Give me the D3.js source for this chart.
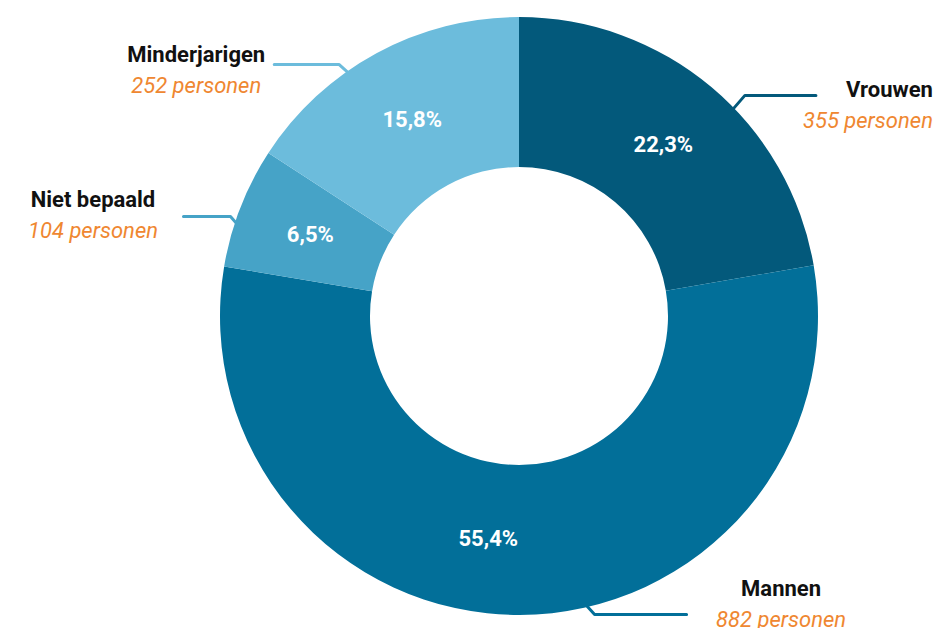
<!DOCTYPE html>
<html><head><meta charset="utf-8">
<script src="https://cdn.jsdelivr.net/npm/d3@7/dist/d3.min.js"></script>
<style>
html,body{margin:0;padding:0;background:#fff;}
svg{display:block;font-family:Roboto, "Noto Sans", sans-serif;}
</style></head>
<body>
<svg id="chart" width="935" height="628"></svg>
<script>
// Data
const categories = ["Vrouwen", "Mannen", "Niet bepaald", "Minderjarigen"];
const values = [355, 882, 104, 252];
const unitLabel = "personen";
const colors = ["#03597b", "#026f99", "#46a3c7", "#6cbcdc"];

// Layout (annotation placement, not data)
const layout = {
  "Vrouwen":       {leaderAngle: 46,  elbow: [13, -15], len: 71,  textAnchor: "end",    textDx: 117,  textDy: 1.5,  pctNudge: 0},
  "Mannen":        {leaderAngle: 167, elbow: [9, 10],   len: 92,  textAnchor: "middle", textDx: 94.5, textDy: -18,  pctNudge: 8},
  "Niet bepaald":  {leaderAngle: 288, elbow: [-7, -8],  len: 47,  textAnchor: "middle", textDx: -90.5,textDy: -9.5, pctNudge: 0},
  "Minderjarigen": {leaderAngle: 325, elbow: [-10, -9], len: 65,  textAnchor: "middle", textDx: -78,  textDy: -2.5, pctNudge: 0}
};

const cx = 519, cy = 316, R = 299, r = 149;
const total = d3.sum(values);
const data = categories.map((c, i) => ({name: c, value: values[i], color: colors[i]}));

const svg = d3.select("#chart");
const g = svg.append("g").attr("transform", `translate(${cx},${cy})`);

const pie = d3.pie().value(d => d.value).sort(null);
const arc = d3.arc().innerRadius(r).outerRadius(R);
const arcs = pie(data);

// leader lines (behind slices)
const rad = deg => deg * Math.PI / 180;
const leaderG = g.append("g");
arcs.forEach(a => {
  const L = layout[a.data.name];
  const ang = rad(L.leaderAngle);
  const sx = (R - 3) * Math.sin(ang), sy = -(R - 3) * Math.cos(ang);
  const ex = sx + L.elbow[0], ey = sy + L.elbow[1];
  const dir = Math.sin(ang) >= 0 ? 1 : -1;
  const fx = ex + dir * L.len;
  leaderG.append("path")
    .attr("d", d3.line()([[sx, sy], [ex, ey], [fx, ey]]))
    .attr("fill", "none")
    .attr("stroke", a.data.color)
    .attr("stroke-width", 3)
    .attr("stroke-linecap", "round")
    .attr("stroke-linejoin", "round");
  const tx = fx + L.textDx;
  const ty = ey + L.textDy;
  g.append("text")
    .attr("x", tx).attr("y", ty)
    .attr("text-anchor", L.textAnchor)
    .attr("font-size", 22).attr("font-weight", 700).attr("fill", "#111")
    .text(a.data.name);
  g.append("text")
    .attr("x", tx).attr("y", ty + 31)
    .attr("text-anchor", L.textAnchor)
    .attr("font-size", 22).attr("font-style", "italic").attr("fill", "#ef8731")
    .text(`${a.data.value} ${unitLabel}`);
});

// slices
g.append("g").selectAll("path").data(arcs).join("path")
  .attr("d", arc)
  .attr("fill", d => d.data.color);

// percentage labels
const fmt = v => (v * 100).toFixed(1).replace(".", ",") + "%";
g.append("g").selectAll("text").data(arcs).join("text")
  .attr("transform", d => {
    const mid = (d.startAngle + d.endAngle) / 2 + rad(layout[d.data.name].pctNudge);
    const rr = (r + R) / 2;
    return `translate(${rr * Math.sin(mid)},${-rr * Math.cos(mid)})`;
  })
  .attr("text-anchor", "middle")
  .attr("dy", "0.35em")
  .attr("font-size", 22).attr("font-weight", 700).attr("fill", "#fff")
  .text(d => fmt(d.value / total));
</script>
</body></html>
